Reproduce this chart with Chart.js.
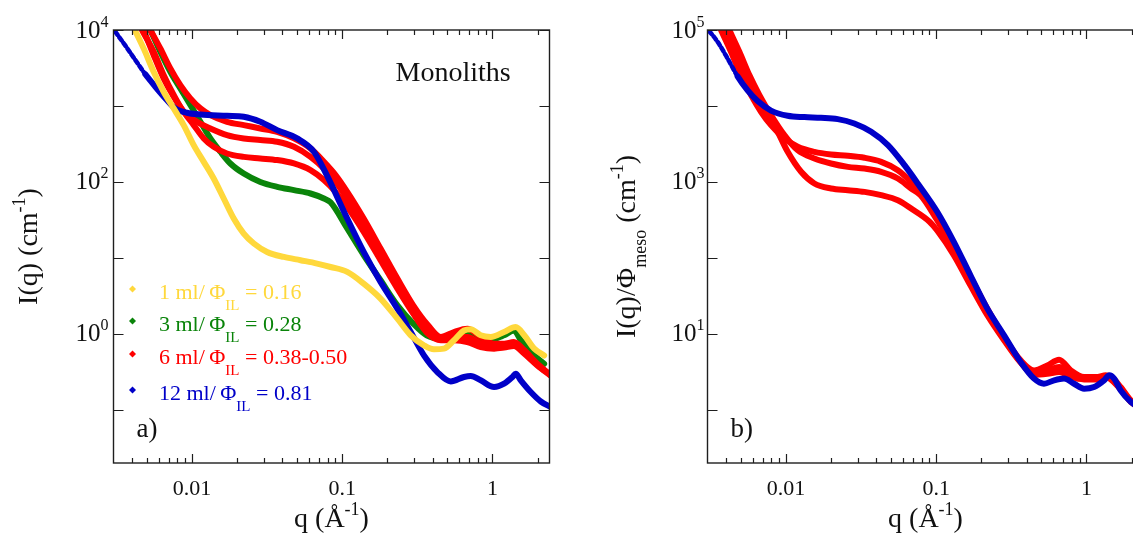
<!DOCTYPE html>
<html>
<head>
<meta charset="utf-8">
<title>SAXS monoliths</title>
<script src="https://cdn.jsdelivr.net/npm/chart.js@4.4.1/dist/chart.umd.min.js"></script>
<style>
  html, body { margin: 0; padding: 0; background: #fff; overflow: hidden; }
  #wrap { position: relative; width: 1133px; height: 535px; overflow: hidden; background: #fff; }
  canvas { position: absolute; top: 0; }
  #panelA { left: 0; }
  #panelB { left: 570px; }
</style>
</head>
<body>
<div id="wrap">
  <canvas id="panelA" width="570" height="535" style="width:570px;height:535px"></canvas>
  <canvas id="panelB" width="600" height="535" style="width:600px;height:535px"></canvas>
</div>
<script>
// ---------- panel a) : I(q), cm^-1 ----------
const qA12 = [0.00308, 0.0036, 0.00419, 0.00489, 0.0057, 0.00665, 0.00774, 0.00926, 0.01137, 0.0171, 0.0221, 0.0285, 0.0369, 0.0501, 0.0648, 0.0794, 0.108, 0.139, 0.180, 0.233, 0.286, 0.350, 0.430, 0.528, 0.647, 0.717, 0.836, 1.026, 1.196, 1.36, 1.43, 1.545, 1.80, 2.10, 2.45];
const iA12 = [9500, 6220, 4030, 2610, 1792, 1259, 929, 815, 774, 743, 721, 620, 481, 374, 250, 120, 33, 12.0, 4.83, 2.15, 1.06, 0.522, 0.315, 0.237, 0.271, 0.279, 0.245, 0.200, 0.221, 0.271, 0.300, 0.245, 0.172, 0.129, 0.109];

const qA1 = [0.00419, 0.00476, 0.00555, 0.00647, 0.00755, 0.0088, 0.01026, 0.01197, 0.01394, 0.01626, 0.01896, 0.0221, 0.0258, 0.0316, 0.0409, 0.0528, 0.0681, 0.0836, 0.108, 0.139, 0.180, 0.233, 0.286, 0.350, 0.408, 0.476, 0.555, 0.647, 0.717, 0.836, 0.975, 1.196, 1.43, 1.63, 1.90, 2.21];
const iA1 = [9700, 5730, 2825, 1540, 929, 560, 305, 184, 111, 60.6, 33, 20.9, 15.5, 12.0, 10.3, 9.33, 8.43, 7.6, 6.55, 4.59, 2.92, 1.59, 0.96, 0.708, 0.627, 0.64, 0.824, 1.11, 1.15, 0.96, 0.912, 1.06, 1.23, 0.96, 0.64, 0.52];

const qA3 = [0.00528, 0.00615, 0.00717, 0.00836, 0.00975, 0.01137, 0.01325, 0.01545, 0.0180, 0.0221, 0.0285, 0.0369, 0.0477, 0.0615, 0.0755, 0.0836, 0.108, 0.139, 0.180, 0.233, 0.297, 0.365, 0.455, 0.555, 0.68, 0.836, 1.026, 1.196, 1.39, 1.55, 1.90, 2.21];
const iA3 = [10000, 5190, 2825, 1703, 1028, 620, 374, 250, 175, 129, 100, 86.3, 78, 70.5, 60.6, 54, 24.4, 10.9, 5.09, 2.38, 1.37, 0.96, 0.87, 1.0, 1.0, 0.885, 0.87, 0.96, 1.11, 0.82, 0.52, 0.405];

const qA6hi = [0.00528, 0.00615, 0.00717, 0.00836, 0.00975, 0.01137, 0.01325, 0.0171, 0.0221, 0.0285, 0.0369, 0.0477, 0.0615, 0.0755, 0.0903, 0.108, 0.139, 0.180, 0.233, 0.297, 0.373, 0.453, 0.555, 0.681, 0.836, 1.026, 1.196, 1.39, 1.63, 1.99, 2.45];
const iA6hi = [10000, 5730, 3126, 1884, 1259, 929, 759, 620, 560, 506, 457, 374, 276, 184, 123, 74, 33, 13.3, 5.35, 2.38, 1.30, 0.912, 1.06, 1.17, 0.912, 0.745, 0.745, 0.783, 0.608, 0.405, 0.285];

const qA6mid = [0.00464, 0.00555, 0.00647, 0.00755, 0.0088, 0.0108, 0.01325, 0.0171, 0.0221, 0.0285, 0.0369, 0.0477, 0.0615, 0.0755, 0.0903, 0.108, 0.139, 0.180, 0.233, 0.297, 0.373, 0.453, 0.555, 0.681, 0.836, 1.026, 1.196, 1.39, 1.63, 1.99, 2.45];
const iA6mid = [10000, 5190, 2553, 1393, 840, 620, 506, 414, 374, 356, 338, 290, 214, 150, 100, 60.6, 27, 10.9, 4.37, 2.05, 1.11, 0.871, 0.912, 0.912, 0.745, 0.673, 0.693, 0.723, 0.578, 0.393, 0.285];

const qA6lo = [0.00476, 0.00555, 0.00647, 0.00755, 0.0088, 0.01026, 0.01197, 0.01394, 0.0171, 0.0221, 0.0285, 0.0369, 0.0477, 0.0615, 0.0755, 0.0903, 0.108, 0.139, 0.180, 0.233, 0.297, 0.373, 0.453, 0.555, 0.681, 0.836, 1.026, 1.196, 1.39, 1.63, 1.99, 2.45];
const iA6lo = [10000, 4690, 2307, 1324, 840, 560, 374, 290, 237, 214, 204, 194, 175, 143, 106, 74, 47, 22, 9.33, 3.95, 1.85, 1.0, 0.824, 0.824, 0.783, 0.673, 0.640, 0.660, 0.693, 0.549, 0.385, 0.280];

// ---------- panel b) : I(q)/Phi_meso, cm^-1 ----------
const qB12 = [0.00308, 0.0035, 0.00408, 0.00476, 0.00555, 0.00647, 0.00794, 0.01026, 0.01325, 0.0171, 0.0221, 0.0285, 0.0369, 0.0477, 0.0615, 0.0755, 0.1015, 0.131, 0.169, 0.219, 0.283, 0.365, 0.448, 0.522, 0.609, 0.71, 0.828, 0.965, 1.125, 1.31, 1.42, 1.53, 1.69, 1.98, 2.3];
const iB12 = [97000, 70000, 42300, 24500, 16000, 11600, 8700, 7430, 7140, 7000, 6720, 5890, 4580, 3055, 1664, 950, 405, 163, 59.2, 21.5, 9.59, 4.27, 2.58, 2.21, 2.45, 2.58, 2.21, 1.90, 2.0, 2.45, 2.85, 2.58, 1.81, 1.27, 1.05];

const qB6hi = [0.00369, 0.0043, 0.00501, 0.00585, 0.00681, 0.00794, 0.00975, 0.01197, 0.01545, 0.01995, 0.0258, 0.0333, 0.043, 0.0555, 0.0681, 0.0787, 0.1015, 0.131, 0.169, 0.219, 0.283, 0.365, 0.448, 0.549, 0.658, 0.787, 0.965, 1.184, 1.345, 1.49, 1.69, 1.98, 2.3];
const iB6hi = [100000, 51800, 25500, 13900, 8400, 5600, 3740, 2900, 2490, 2300, 2210, 2080, 1840, 1430, 1005, 740, 347, 147, 56.3, 21.5, 9.12, 4.49, 3.31, 3.85, 4.58, 3.31, 2.71, 2.71, 2.85, 2.63, 2.0, 1.33, 1.1];

const qB6mid = [0.00419, 0.00489, 0.0057, 0.00665, 0.00794, 0.00975, 0.01197, 0.01545, 0.01995, 0.0258, 0.0333, 0.043, 0.0555, 0.0681, 0.0787, 0.1015, 0.131, 0.169, 0.219, 0.283, 0.365, 0.448, 0.549, 0.658, 0.787, 0.965, 1.184, 1.345, 1.69, 1.98, 2.3];
const iB6mid = [100000, 51800, 25500, 13900, 7590, 4140, 2620, 2040, 1750, 1580, 1500, 1360, 1110, 820, 670, 314, 133, 50.8, 19.5, 8.67, 4.27, 3.09, 3.31, 3.66, 2.99, 2.58, 2.63, 2.79, 1.90, 1.29, 1.08];

const qB6lo = [0.00388, 0.00453, 0.00541, 0.00631, 0.00736, 0.00858, 0.01026, 0.0126, 0.01545, 0.01995, 0.0258, 0.0333, 0.043, 0.0555, 0.0681, 0.0903, 0.1015, 0.131, 0.169, 0.219, 0.283, 0.365, 0.448, 0.549, 0.658, 0.787, 0.965, 1.184, 1.345, 1.69, 1.98, 2.3];
const iB6lo = [100000, 51800, 25500, 13900, 8400, 5060, 2490, 1360, 955, 820, 780, 741, 670, 575, 447, 300, 230, 109, 43.6, 17.6, 8.24, 4.19, 2.91, 2.99, 3.15, 2.71, 2.52, 2.52, 2.71, 1.86, 1.27, 1.06];

// ---------- axes ----------
const qRange = [0.003, 2.4];
const yRangeA = [0.02, 1e4];
const yRangeB = [0.2, 1e5];
const xMajorTicks = [0.01, 0.1, 1];
const xTickLabels = ['0.01', '0.1', '1'];
const xMinorTicks = [0.004, 0.005, 0.006, 0.007, 0.008, 0.009, 0.02, 0.03, 0.04, 0.05, 0.06, 0.07, 0.08, 0.09, 0.2, 0.3, 0.4, 0.5, 0.6, 0.7, 0.8, 0.9, 2];
const yDecadesA = [0.1, 1, 10, 100, 1000, 10000];
const yLabelExpA = [0, 2, 4];
const yDecadesB = [1, 10, 100, 1000, 10000, 100000];
const yLabelExpB = [1, 3, 5];

// ---------- legend ----------
const legendVolumes = ['1', '3', '6', '12'];
const legendPhi = ['0.16', '0.28', '0.38-0.50', '0.81'];

const YELLOW = '#FFD83C', GREEN = '#0A840A', RED = '#FF0000', BLUE = '#0000C8';
const legendColors = [YELLOW, GREEN, RED, BLUE];

const SERIF = '"Liberation Serif", "Times New Roman", Times, serif';
const fontOf = s => s + 'px ' + SERIF;

function pts(q, v) { return q.map((x, k) => ({ x: x, y: v[k] })); }

function series(label, q, v, color, order, dotted) {
  const d = {
    label: label, data: pts(q, v), borderColor: color, backgroundColor: color,
    borderWidth: 6, pointRadius: 0, fill: false, clip: 0, order: order,
    cubicInterpolationMode: 'monotone', borderCapStyle: 'round', borderJoinStyle: 'round'
  };
  if (dotted) {
    d.segment = {
      borderDash: c => c.p1DataIndex <= dotted ? [4, 3] : undefined,
      borderWidth: c => c.p1DataIndex <= dotted ? 4.5 : undefined
    };
  }
  return d;
}

// text runs with super/subscripts
function runWidth(ctx, runs) {
  let w = 0;
  for (const r of runs) { ctx.font = fontOf(r.size); w += ctx.measureText(r.text).width; }
  return w;
}
function drawRuns(ctx, runs, x, y, align) {
  const w = runWidth(ctx, runs);
  let cx = align === 'center' ? x - w / 2 : (align === 'right' ? x - w : x);
  ctx.textAlign = 'left';
  ctx.textBaseline = 'alphabetic';
  for (const r of runs) {
    ctx.font = fontOf(r.size);
    ctx.fillStyle = r.color || ctx.fillStyle;
    ctx.fillText(r.text, cx, y + (r.dy || 0));
    cx += ctx.measureText(r.text).width;
  }
}

const framePlugin = {
  id: 'framePlugin',
  afterDatasetsDraw(chart, args, o) {
    const ctx = chart.ctx, a = chart.chartArea;
    const xs = chart.scales.x, ys = chart.scales.y;
    ctx.save();
    ctx.strokeStyle = '#1e1e1e';
    ctx.lineWidth = 1.2;
    ctx.beginPath();
    const seg = (x1, y1, x2, y2) => { ctx.moveTo(x1, y1); ctx.lineTo(x2, y2); };
    for (const v of xMinorTicks) {
      const p = Math.round(xs.getPixelForValue(v)) + 0.5;
      seg(p, a.bottom, p, a.bottom - 5); seg(p, a.top, p, a.top + 5);
    }
    for (const v of xMajorTicks) {
      const p = Math.round(xs.getPixelForValue(v)) + 0.5;
      seg(p, a.bottom, p, a.bottom - 9); seg(p, a.top, p, a.top + 9);
    }
    for (const v of o.yTicks) {
      const p = Math.round(ys.getPixelForValue(v)) + 0.5;
      seg(a.left, p, a.left + 10, p); seg(a.right, p, a.right - 10, p);
    }
    ctx.stroke();
    ctx.lineWidth = 1.4;
    ctx.strokeRect(a.left, a.top, a.right - a.left, a.bottom - a.top);

    ctx.fillStyle = '#111';
    // x tick labels
    xMajorTicks.forEach((v, k) => {
      drawRuns(ctx, [{ text: xTickLabels[k], size: 22 }], xs.getPixelForValue(v), a.bottom + 32, 'center');
    });
    // y tick labels: powers of ten
    o.yLabelExp.forEach(e => {
      const p = ys.getPixelForValue(Math.pow(10, e));
      drawRuns(ctx, [{ text: '10', size: 25 }, { text: String(e), size: 16, dy: -11 }], a.left - o.yLabelGap, p + 7.5, 'right');
    });
    // x title
    const xc = (a.left + a.right) / 2;
    drawRuns(ctx, [{ text: 'q (Å', size: 28 }, { text: '-1', size: 18, dy: -12 }, { text: ')', size: 28 }], xc, a.bottom + 64, 'center');
    // y title (rotated)
    ctx.save();
    ctx.translate(a.left - o.yTitleGap, (a.top + a.bottom) / 2);
    ctx.rotate(-Math.PI / 2);
    drawRuns(ctx, o.yTitle, 0, 0, 'center');
    ctx.restore();
    // panel notes
    for (const n of o.notes) {
      ctx.fillStyle = '#111';
      drawRuns(ctx, [{ text: n.text, size: n.size }], a.left + n.dx, a.top + n.dy, 'left');
    }
    // legend
    if (o.legend) {
      o.legend.forEach((row, k) => {
        const base = a.top + row.dy;
        const mx = a.left + 19, my = base - 10;
        ctx.fillStyle = row.color;
        ctx.beginPath();
        ctx.moveTo(mx, my - 3.5); ctx.lineTo(mx + 3.5, my); ctx.lineTo(mx, my + 3.5); ctx.lineTo(mx - 3.5, my);
        ctx.closePath(); ctx.fill();
        drawRuns(ctx, [
          { text: row.vol + ' ml/\u2009Φ', size: 22, color: row.color },
          { text: 'IL', size: 15, dy: 11, color: row.color },
          { text: ' = ' + row.phi, size: 22, color: row.color }
        ], a.left + 45.5, base, 'left');
      });
    }
    ctx.restore();
  }
};

function baseOptions(yRange, pad, plug) {
  return {
    responsive: false, animation: false, devicePixelRatio: 1, events: [],
    layout: { padding: pad },
    scales: {
      x: { type: 'logarithmic', min: qRange[0], max: qRange[1], display: false },
      y: { type: 'logarithmic', min: yRange[0], max: yRange[1], display: false }
    },
    plugins: { legend: { display: false }, tooltip: { enabled: false }, framePlugin: plug }
  };
}

new Chart(document.getElementById('panelA'), {
  type: 'line',
  data: {
    datasets: [
      series('1 ml', qA1, iA1, YELLOW, 0),
      series('12 ml', qA12, iA12, BLUE, 1, 3),
      series('6 ml (a)', qA6hi, iA6hi, RED, 2),
      series('6 ml (b)', qA6mid, iA6mid, RED, 3),
      series('6 ml (c)', qA6lo, iA6lo, RED, 4),
      series('3 ml', qA3, iA3, GREEN, 5)
    ]
  },
  options: baseOptions(yRangeA, { left: 113.5, right: 20.5, top: 30, bottom: 72 }, {
    yTicks: yDecadesA, yLabelExp: yLabelExpA, yLabelGap: 5, yTitleGap: 77,
    yTitle: [{ text: 'I(q) (cm', size: 28 }, { text: '-1', size: 18, dy: -12 }, { text: ')', size: 28 }],
    notes: [{ text: 'Monoliths', size: 28, dx: 282, dy: 51 }, { text: 'a)', size: 27, dx: 23, dy: 407 }],
    legend: legendVolumes.map((v, k) => ({ vol: v, phi: legendPhi[k], color: legendColors[k], dy: [269, 301, 334, 370][k] }))
  }),
  plugins: [framePlugin]
});

new Chart(document.getElementById('panelB'), {
  type: 'line',
  data: {
    datasets: [
      series('12 ml', qB12, iB12, BLUE, 0, 3),
      series('6 ml (a)', qB6hi, iB6hi, RED, 1),
      series('6 ml (b)', qB6mid, iB6mid, RED, 2),
      series('6 ml (c)', qB6lo, iB6lo, RED, 3)
    ]
  },
  options: baseOptions(yRangeB, { left: 137.5, right: 26.5, top: 30, bottom: 72 }, {
    yTicks: yDecadesB, yLabelExp: yLabelExpB, yLabelGap: 3, yTitleGap: 73,
    yTitle: [{ text: 'I(q)/Φ', size: 28 }, { text: 'meso', size: 18, dy: 11 }, { text: ' (cm', size: 28 }, { text: '-1', size: 18, dy: -12 }, { text: ')', size: 28 }],
    notes: [{ text: 'b)', size: 27, dx: 23, dy: 407 }],
    legend: null
  }),
  plugins: [framePlugin]
});
</script>
</body>
</html>
